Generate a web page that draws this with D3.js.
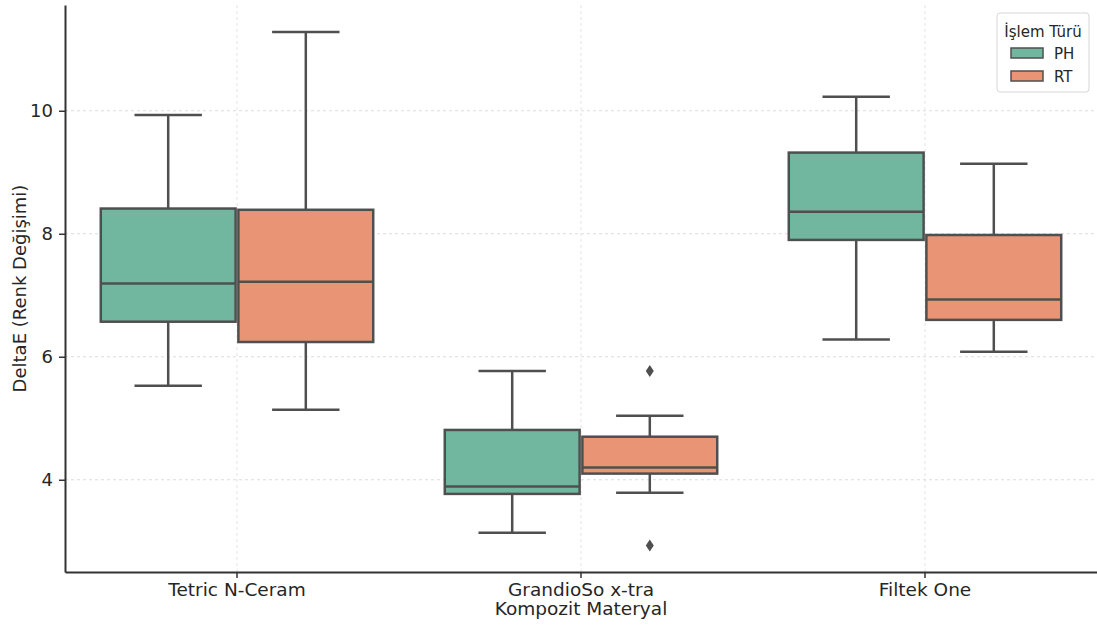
<!DOCTYPE html>
<html>
<head>
<meta charset="utf-8">
<script src="https://cdn.jsdelivr.net/npm/d3@7"></script>
<style>
  body { margin: 0; background: #fff; }
  text { font-family: "DejaVu Sans", sans-serif; fill: #262626; }
</style>
</head>
<body>
<div id="chart-area"></div>
<script>
// categories and hue groups
var materials = ["Tetric N-Ceram", "GrandioSo x-tra", "Filtek One"];
var treatments = ["PH", "RT"];
var yTicks = [4, 6, 8, 10];

// box stats per material: [lower whisker, q1, median, q3, upper whisker]
var phStats = [
  [5.53, 6.57, 7.19, 8.41, 9.93],
  [3.14, 3.77, 3.89, 4.81, 5.77],
  [6.28, 7.90, 8.36, 9.32, 10.23]
];
var rtStats = [
  [5.14, 6.24, 7.22, 8.39, 11.28],
  [3.79, 4.10, 4.20, 4.70, 5.04],
  [6.08, 6.60, 6.93, 7.98, 9.14]
];
// outliers per material
var phOutliers = [[], [], []];
var rtOutliers = [[], [5.77, 2.93], []];

var colors = { PH: "#71b7a0", RT: "#e99575" };
var lineColor = "#4f4f4f";

var width = 1097, height = 628;
var plotLeft = 65, plotRight = 1097, plotTop = 5, plotBottom = 572;

var svg = d3.select("#chart-area").append("svg")
    .attr("width", width)
    .attr("height", height);

var x = d3.scaleBand()
    .domain(materials)
    .range([plotLeft, plotRight])
    .padding(0);

var xHue = d3.scaleBand()
    .domain(treatments)
    .range([x.bandwidth() * 0.1, x.bandwidth() * 0.9])
    .padding(0);

var y = d3.scaleLinear()
    .domain([2.5, 11.72])
    .range([plotBottom, plotTop]);

// grid
svg.append("g").selectAll("line")
    .data(yTicks)
    .enter().append("line")
    .attr("x1", plotLeft).attr("x2", plotRight)
    .attr("y1", function(d) { return y(d); })
    .attr("y2", function(d) { return y(d); })
    .attr("stroke", "#dcdcdc")
    .attr("stroke-width", 1)
    .attr("stroke-dasharray", "3,3");

svg.append("g").selectAll("line")
    .data(materials)
    .enter().append("line")
    .attr("x1", function(d) { return x(d) + x.bandwidth() / 2; })
    .attr("x2", function(d) { return x(d) + x.bandwidth() / 2; })
    .attr("y1", plotTop).attr("y2", plotBottom)
    .attr("stroke", "#e4e4e4")
    .attr("stroke-width", 1)
    .attr("stroke-dasharray", "3,3");

// boxes
var series = [
  { key: "PH", stats: phStats, outliers: phOutliers },
  { key: "RT", stats: rtStats, outliers: rtOutliers }
];

var boxW = xHue.bandwidth() * 0.98;
var capW = boxW / 2;

series.forEach(function(s) {
    materials.forEach(function(m, i) {
        var st = s.stats[i];
        var cx = x(m) + xHue(s.key) + xHue.bandwidth() / 2;
        var g = svg.append("g");

        // whiskers
        g.append("line")
            .attr("x1", cx).attr("x2", cx)
            .attr("y1", y(st[0])).attr("y2", y(st[1]))
            .attr("stroke", lineColor).attr("stroke-width", 2.5);
        g.append("line")
            .attr("x1", cx).attr("x2", cx)
            .attr("y1", y(st[3])).attr("y2", y(st[4]))
            .attr("stroke", lineColor).attr("stroke-width", 2.5);
        [st[0], st[4]].forEach(function(v) {
            g.append("line")
                .attr("x1", cx - capW / 2).attr("x2", cx + capW / 2)
                .attr("y1", y(v)).attr("y2", y(v))
                .attr("stroke", lineColor).attr("stroke-width", 2.5);
        });

        // box
        g.append("rect")
            .attr("x", cx - boxW / 2)
            .attr("y", y(st[3]))
            .attr("width", boxW)
            .attr("height", y(st[1]) - y(st[3]))
            .attr("fill", colors[s.key])
            .attr("stroke", lineColor)
            .attr("stroke-width", 2.5);

        // median
        g.append("line")
            .attr("x1", cx - boxW / 2).attr("x2", cx + boxW / 2)
            .attr("y1", y(st[2])).attr("y2", y(st[2]))
            .attr("stroke", lineColor).attr("stroke-width", 2.5);

        // outliers
        g.selectAll("path")
            .data(s.outliers[i])
            .enter().append("path")
            .attr("d", "M0,-6L4,0L0,6L-4,0Z")
            .attr("transform", function(d) { return "translate(" + cx + "," + y(d) + ")"; })
            .attr("fill", lineColor);
    });
});

// axes
var xAxis = svg.append("g")
    .attr("transform", "translate(0," + plotBottom + ")")
    .call(d3.axisBottom(x).tickSize(6).tickSizeOuter(0).tickPadding(5));
xAxis.select(".domain").attr("stroke", "#333").attr("stroke-width", 2);
xAxis.selectAll(".tick line").attr("stroke", "#333").attr("stroke-width", 1.5);
xAxis.selectAll(".tick text")
    .style("font-size", "18.5px")
    .style("font-family", "DejaVu Sans")
    .attr("fill", "#262626");

var yAxis = svg.append("g")
    .attr("transform", "translate(" + plotLeft + ",0)")
    .call(d3.axisLeft(y).tickValues(yTicks).tickSize(6).tickSizeOuter(0).tickPadding(6));
yAxis.select(".domain").attr("stroke", "#333").attr("stroke-width", 2);
yAxis.selectAll(".tick line").attr("stroke", "#333").attr("stroke-width", 1.5);
yAxis.selectAll(".tick text")
    .style("font-size", "18px")
    .style("font-family", "DejaVu Sans")
    .attr("fill", "#262626");

// axis labels
svg.append("text")
    .attr("x", x(materials[1]) + x.bandwidth() / 2)
    .attr("y", 615)
    .attr("text-anchor", "middle")
    .style("font-size", "18.5px")
    .text("Kompozit Materyal");

svg.append("text")
    .attr("transform", "translate(26," + (plotTop + plotBottom) / 2 + ") rotate(-90)")
    .attr("text-anchor", "middle")
    .style("font-size", "18px")
    .text("DeltaE (Renk Değişimi)");

// legend
var legend = svg.append("g").attr("transform", "translate(997,13)");
legend.append("rect")
    .attr("width", 92).attr("height", 79)
    .attr("rx", 3)
    .attr("fill", "#fff")
    .attr("stroke", "#d6d6d6");
legend.append("text")
    .attr("x", 46).attr("y", 24)
    .attr("text-anchor", "middle")
    .style("font-size", "15px")
    .text("İşlem Türü");
legend.selectAll("rect.item")
    .data(treatments)
    .enter().append("rect")
    .attr("class", "item")
    .attr("x", 14)
    .attr("y", function(d, i) { return 35 + i * 23; })
    .attr("width", 32).attr("height", 10)
    .attr("fill", function(d) { return colors[d]; })
    .attr("stroke", lineColor)
    .attr("stroke-width", 1.5);
legend.selectAll("text.item")
    .data(treatments)
    .enter().append("text")
    .attr("class", "item")
    .attr("x", 57)
    .attr("y", function(d, i) { return 46 + i * 23; })
    .style("font-size", "15px")
    .text(function(d) { return d; });
</script>
</body>
</html>
